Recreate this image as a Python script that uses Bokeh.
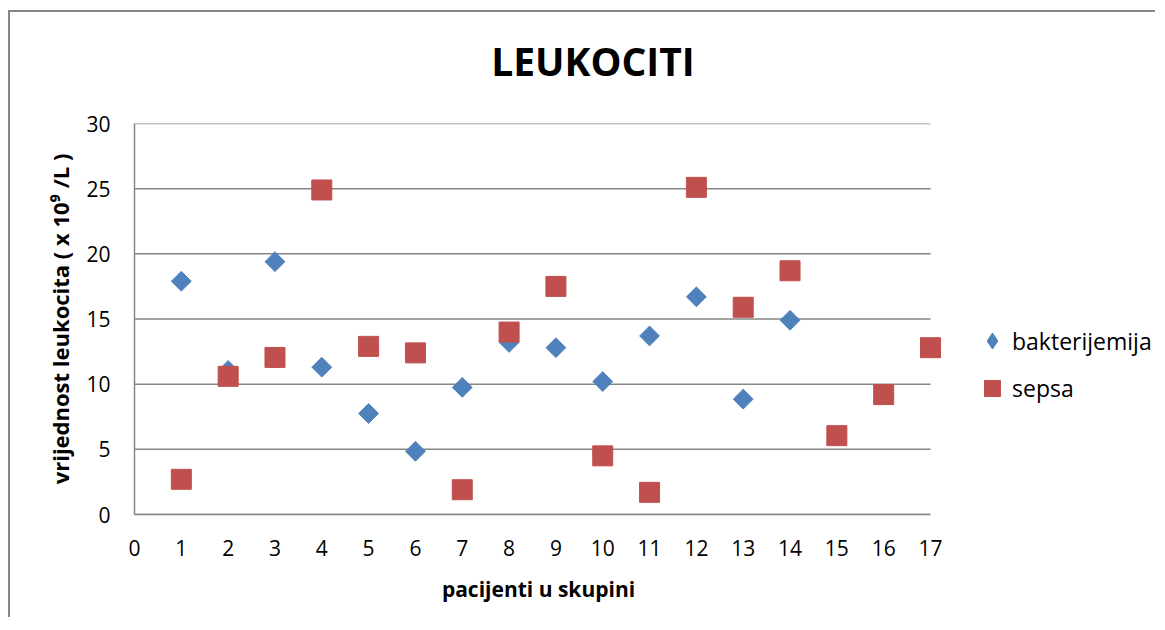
from bokeh.plotting import figure
from bokeh.layouts import column, row
from bokeh.models import (FixedTicker, Legend, LegendItem, Label, Range1d,
                          ColumnDataSource)
from bokeh.embed import file_html
from bokeh.resources import INLINE
import math

# ---- data ----
patients_bakt = [1, 2, 3, 4, 5, 6, 7, 8, 9, 10, 11, 12, 13, 14]
bakterijemija = [17.9, 11.05, 19.4, 11.3, 7.75, 4.85, 9.75, 13.2, 12.8, 10.2, 13.7, 16.7, 8.85, 14.9]
patients_sepsa = [1, 2, 3, 4, 5, 6, 7, 8, 9, 10, 11, 12, 13, 14, 15, 16, 17]
sepsa = [2.7, 10.6, 12.05, 24.9, 12.9, 12.4, 1.9, 14.0, 17.5, 4.5, 1.7, 25.1, 15.9, 18.7, 6.05, 9.2, 12.8]
x_ticks = list(range(0, 18))
y_ticks = [0, 5, 10, 15, 20, 25, 30]

title_text = "LEUKOCITI"
x_label = "pacijenti u skupini"
y_label = "vrijednost leukocita ( x 10\u2079 /L )"
series_names = ["bakterijemija", "sepsa"]

BLUE = "#4F81BD"
RED = "#C0504D"
GRID = "#868686"
FONT = "Open Sans"

W, H = 1145, 605
HT = 90            # title strip height
WP = 940           # main plot width
HP = H - HT
FRAME_L, PLOT_R, FRAME_R = 124, 920, 932   # x=0, x=17, frame edge (room so the last marker is not clipped)
x_end = x_ticks[-1] * (FRAME_R - FRAME_L) / (PLOT_R - FRAME_L)

def blank(width, height):
    f = figure(width=width, height=height, output_backend="svg", toolbar_location=None,
               title=None, x_axis_location=None, y_axis_location=None,
               x_range=Range1d(0, 1), y_range=Range1d(0, 1),
               min_border_left=0, min_border_right=0, min_border_top=0, min_border_bottom=0)
    f.outline_line_color = None
    f.grid.grid_line_color = None
    f.background_fill_color = "white"
    f.border_fill_color = "white"
    return f

# ---- title strip ----
pt = blank(W, HT)
pt.add_layout(Label(x=582.5, y=HT - 48, x_units="screen", y_units="screen", text=title_text,
                    text_align="center", text_baseline="middle",
                    text_font=FONT, text_font_size="39px", text_font_style="bold",
                    text_color="black"))

# ---- main plot ----
p = figure(width=WP, height=HP, output_backend="svg", toolbar_location=None, title=None,
           x_range=Range1d(0, x_end), y_range=Range1d(0, 30),
           min_border_left=FRAME_L, min_border_right=WP - FRAME_R,
           min_border_top=111 - HT, min_border_bottom=HP - (502 - HT))
p.outline_line_color = None
p.background_fill_color = "white"
p.border_fill_color = "white"

p.xaxis.ticker = FixedTicker(ticks=x_ticks)
p.yaxis.ticker = FixedTicker(ticks=y_ticks)
p.xaxis.bounds = (x_ticks[0], x_ticks[-1])
for ax in (p.xaxis[0], p.yaxis[0]):
    ax.axis_line_color = GRID
    ax.axis_line_width = 1.5
    ax.major_tick_line_color = None
    ax.minor_tick_line_color = None
    ax.major_tick_in = 0
    ax.major_tick_out = 0
    ax.minor_tick_in = 0
    ax.minor_tick_out = 0
    ax.major_label_text_font = FONT
    ax.major_label_text_font_size = "21px"
    ax.major_label_text_color = "black"
    ax.axis_label_text_font = FONT
    ax.axis_label_text_font_style = "bold"
    ax.axis_label_text_color = "black"
p.xaxis.axis_label = x_label
p.yaxis.axis_label = y_label
p.xaxis.axis_label_text_font_size = "21px"
p.yaxis.axis_label_text_font_size = "22px"
p.xaxis.major_label_standoff = 25
p.yaxis.major_label_standoff = 24
p.xaxis.axis_label_standoff = 16
p.yaxis.axis_label_standoff = 8

p.xgrid.grid_line_color = None
p.ygrid.grid_line_color = None
# horizontal grid lines spanning 0..17
p.segment(x0=[x_ticks[0]] * len(y_ticks), x1=[x_ticks[-1]] * len(y_ticks),
          y0=y_ticks, y1=y_ticks, line_color=GRID, line_width=1.5)

src_b = ColumnDataSource(dict(x=patients_bakt, y=bakterijemija))
src_s = ColumnDataSource(dict(x=patients_sepsa, y=sepsa))
p.scatter("x", "y", source=src_b, marker="square", size=14, angle=math.pi / 4,
          fill_color=BLUE, line_color=BLUE)
p.scatter("x", "y", source=src_s, marker="square", size=20,
          fill_color=RED, line_color=RED)

# ---- legend strip ----
pl = blank(W - WP, HP)
key_b = pl.scatter(x=[float("nan")], y=[float("nan")], marker="diamond",
                   fill_color=BLUE, line_color=BLUE)
key_s = pl.scatter(x=[float("nan")], y=[float("nan")], marker="square",
                   fill_color=RED, line_color=RED)

def make_legend(item, gw, gh, loc):
    lg = Legend(items=[item], location=loc, glyph_width=gw, glyph_height=gh,
                label_standoff=0, padding=0, margin=0, spacing=0,
                border_line_color=None, background_fill_alpha=0,
                label_text_font=FONT, label_text_font_size="23px",
                label_text_color="black")
    pl.add_layout(lg, "center")
    return lg

# frames in the row are aligned, so offsets are measured from the plot's x-axis line
make_legend(LegendItem(label=series_names[0], renderers=[key_b]), 40, 45, (22, 151))
make_legend(LegendItem(label=series_names[1], renderers=[key_s]), 40, 44, (22, 104))

layout = column(pt, row(p, pl, spacing=0), spacing=0)
layout.styles = {"border-top": "2px solid #868686", "border-left": "2px solid #868686",
                 "margin-top": "10px", "margin-left": "8px"}

open("out.html", "w").write(file_html(layout, INLINE))
